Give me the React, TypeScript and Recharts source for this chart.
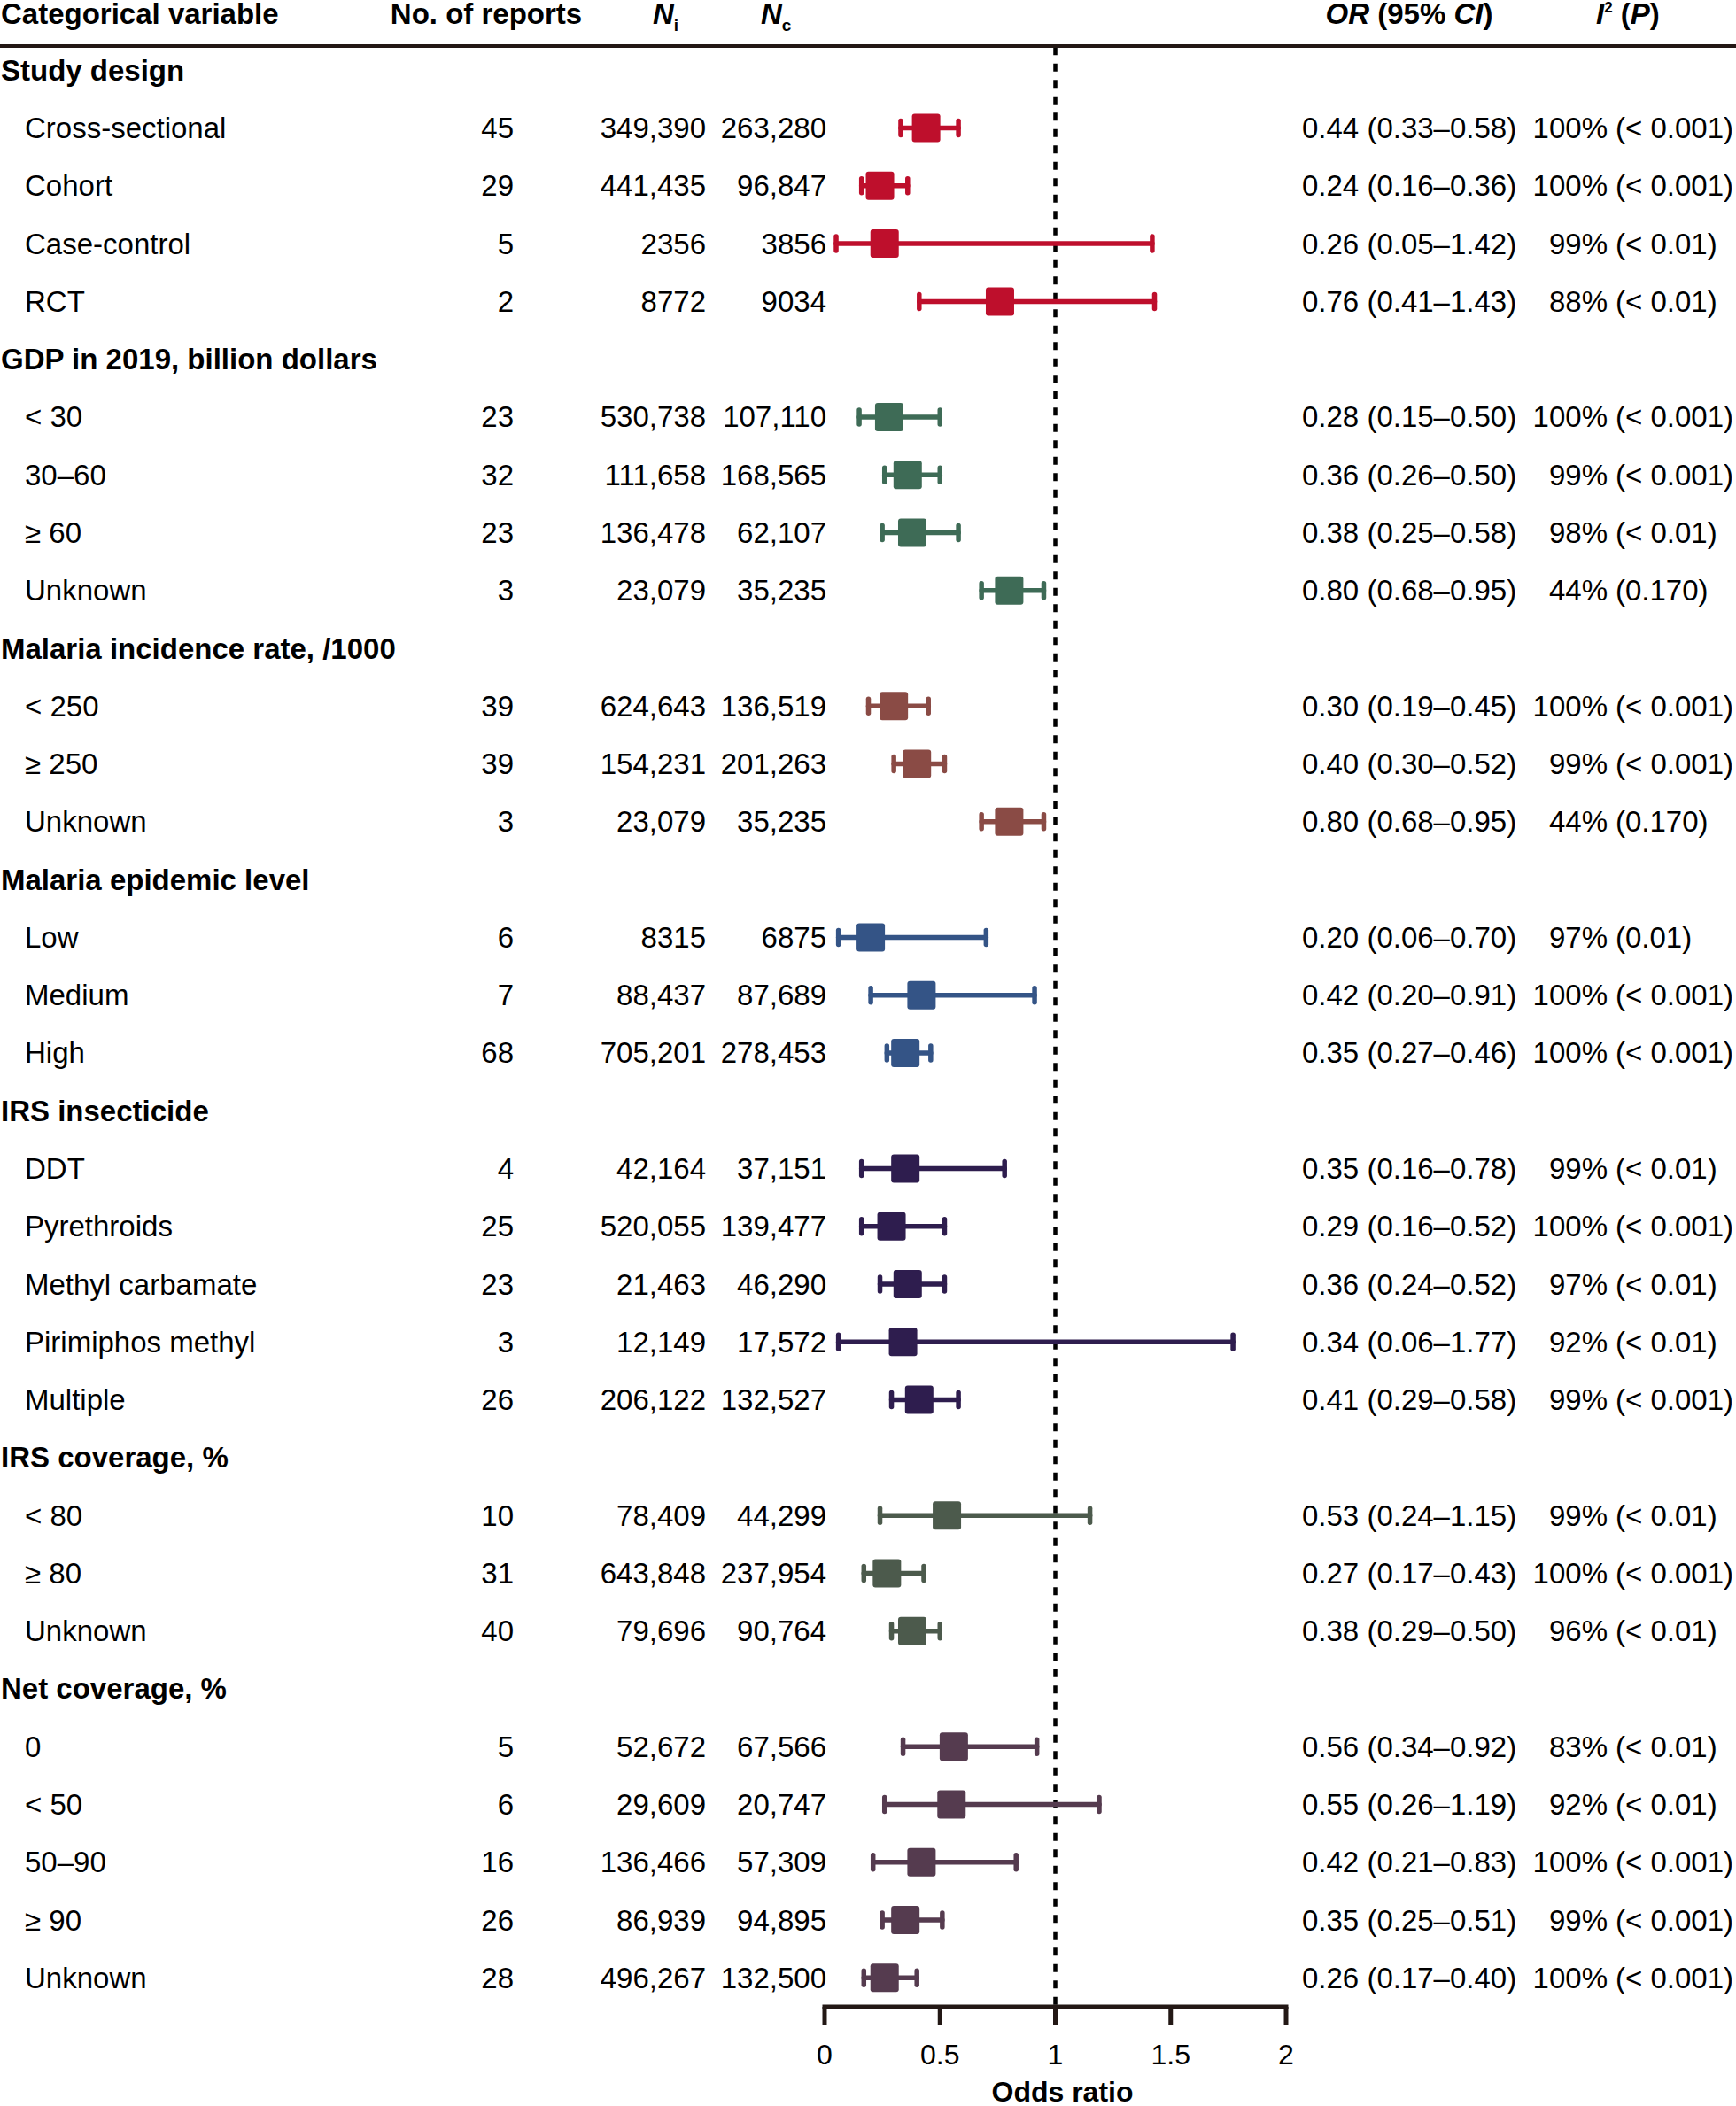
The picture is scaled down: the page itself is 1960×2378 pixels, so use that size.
import React from 'react';
import { ScatterChart, Scatter, XAxis, YAxis, ErrorBar, ReferenceLine } from 'recharts';

const groupNames = [
  'Study design',
  'GDP in 2019, billion dollars',
  'Malaria incidence rate, /1000',
  'Malaria epidemic level',
  'IRS insecticide',
  'IRS coverage, %',
  'Net coverage, %',
];
const groupSizes = [4, 4, 3, 3, 5, 3, 5];
const groupColors = ['#BE0F2C', '#3E6B56', '#8A4B45', '#345486', '#2E1D4E', '#4C5A4C', '#553B4F'];

const itemLabels = [
  'Cross-sectional', 'Cohort', 'Case-control', 'RCT',
  '< 30', '30–60', '≥ 60', 'Unknown',
  '< 250', '≥ 250', 'Unknown',
  'Low', 'Medium', 'High',
  'DDT', 'Pyrethroids', 'Methyl carbamate', 'Pirimiphos methyl', 'Multiple',
  '< 80', '≥ 80', 'Unknown',
  '0', '< 50', '50–90', '≥ 90', 'Unknown',
];
const reports = [45, 29, 5, 2, 23, 32, 23, 3, 39, 39, 3, 6, 7, 68, 4, 25, 23, 3, 26, 10, 31, 40, 5, 6, 16, 26, 28];
const nI = [
  349390, 441435, 2356, 8772,
  530738, 111658, 136478, 23079,
  624643, 154231, 23079,
  8315, 88437, 705201,
  42164, 520055, 21463, 12149, 206122,
  78409, 643848, 79696,
  52672, 29609, 136466, 86939, 496267,
];
const nC = [
  263280, 96847, 3856, 9034,
  107110, 168565, 62107, 35235,
  136519, 201263, 35235,
  6875, 87689, 278453,
  37151, 139477, 46290, 17572, 132527,
  44299, 237954, 90764,
  67566, 20747, 57309, 94895, 132500,
];
const orValues = [0.44, 0.24, 0.26, 0.76, 0.28, 0.36, 0.38, 0.80, 0.30, 0.40, 0.80, 0.20, 0.42, 0.35, 0.35, 0.29, 0.36, 0.34, 0.41, 0.53, 0.27, 0.38, 0.56, 0.55, 0.42, 0.35, 0.26];
const ciLow = [0.33, 0.16, 0.05, 0.41, 0.15, 0.26, 0.25, 0.68, 0.19, 0.30, 0.68, 0.06, 0.20, 0.27, 0.16, 0.16, 0.24, 0.06, 0.29, 0.24, 0.17, 0.29, 0.34, 0.26, 0.21, 0.25, 0.17];
const ciHigh = [0.58, 0.36, 1.42, 1.43, 0.50, 0.50, 0.58, 0.95, 0.45, 0.52, 0.95, 0.70, 0.91, 0.46, 0.78, 0.52, 0.52, 1.77, 0.58, 1.15, 0.43, 0.50, 0.92, 1.19, 0.83, 0.51, 0.40];
const i2Values = [100, 100, 99, 88, 100, 99, 98, 44, 100, 99, 44, 97, 100, 100, 99, 100, 97, 92, 99, 99, 100, 96, 83, 92, 100, 99, 100];
const pValues = [
  '< 0.001', '< 0.001', '< 0.01', '< 0.01',
  '< 0.001', '< 0.001', '< 0.01', '0.170',
  '< 0.001', '< 0.001', '0.170',
  '0.01', '< 0.001', '< 0.001',
  '< 0.01', '< 0.001', '< 0.01', '< 0.01', '< 0.001',
  '< 0.01', '< 0.001', '< 0.01',
  '< 0.01', '< 0.01', '< 0.001', '< 0.001', '< 0.001',
];
const xTicks = [0, 0.5, 1, 1.5, 2];

type Row = { kind: 'group'; g: number } | { kind: 'item'; g: number; i: number };

const rows: Row[] = [];
let counter = 0;
groupNames.forEach((_, g) => {
  rows.push({ kind: 'group', g });
  for (let j = 0; j < groupSizes[g]; j++) rows.push({ kind: 'item', g, i: counter++ });
});
const rowTicks = [0, ...rows.map((_, idx) => idx + 1)];

const seriesData = groupNames.map((_, g) =>
  rows
    .map((row, idx) => ({ row, y: idx + 1 }))
    .filter((d) => d.row.kind === 'item' && d.row.g === g)
    .map((d) => {
      const i = (d.row as { i: number }).i;
      return { y: d.y, or: orValues[i], err: [orValues[i] - ciLow[i], ciHigh[i] - orValues[i]] };
    })
);

const FONT = '"Liberation Sans", Arial, Helvetica, sans-serif';
const INK = '#000';
const fmtN = (n: number) => (n >= 10000 ? String(n).replace(/\B(?=(\d{3})+(?!\d))/g, ',') : String(n));

const RowTick = (props: any) => {
  const { y, payload } = props;
  const v = payload.value as number;
  const base = y + 11.5;
  if (v === 0) {
    const hb = y + 13;
    return (
      <g fontFamily={FONT} fontSize={33} fontWeight={700} fill={INK}>
        <text x={1} y={hb}>Categorical variable</text>
        <text x={549} y={hb} textAnchor="middle">No. of reports</text>
        <text x={737} y={hb}>
          <tspan fontStyle="italic">N</tspan>
          <tspan fontSize={19} dy={8}>i</tspan>
        </text>
        <text x={859} y={hb}>
          <tspan fontStyle="italic">N</tspan>
          <tspan fontSize={19} dy={8}>c</tspan>
        </text>
        <text x={1591} y={hb} textAnchor="middle">
          <tspan fontStyle="italic">OR</tspan> (95% <tspan fontStyle="italic">CI</tspan>)
        </text>
        <text x={1802} y={hb}>
          <tspan fontStyle="italic">I</tspan>
          <tspan fontSize={17} dy={-13}>2</tspan>
          <tspan dy={13}> (</tspan>
          <tspan fontStyle="italic">P</tspan>)
        </text>
        <line x1={0} x2={1960} y1={y + 38} y2={y + 38} stroke="#231815" strokeWidth={4} />
      </g>
    );
  }
  const row = rows[v - 1];
  if (!row) return null;
  if (row.kind === 'group') {
    return (
      <text x={1} y={base} fontFamily={FONT} fontSize={33} fontWeight={700} fill={INK}>
        {groupNames[row.g]}
      </text>
    );
  }
  const i = row.i;
  return (
    <g fontFamily={FONT} fontSize={33} fill={INK}>
      <text x={28} y={base}>{itemLabels[i]}</text>
      <text x={580} y={base} textAnchor="end">{reports[i]}</text>
      <text x={797} y={base} textAnchor="end">{fmtN(nI[i])}</text>
      <text x={933} y={base} textAnchor="end">{fmtN(nC[i])}</text>
      <text x={1470} y={base}>
        {`${orValues[i].toFixed(2)} (${ciLow[i].toFixed(2)}–${ciHigh[i].toFixed(2)})`}
      </text>
      <text x={1815} y={base} textAnchor="end">{`${i2Values[i]}%`}</text>
      <text x={1824} y={base}>{`(${pValues[i]})`}</text>
    </g>
  );
};

const AxisTitle = (props: any) => {
  const vb = props.viewBox || {};
  return (
    <text
      x={(vb.x ?? 931) + (vb.width ?? 521) / 2 + 8}
      y={(vb.y ?? 2266) + 107}
      textAnchor="middle"
      fontFamily={FONT}
      fontSize={32}
      fontWeight={700}
      fill={INK}
    >
      Odds ratio
    </text>
  );
};

const makeShape = (color: string) => (props: any) => {
  const { cx, cy } = props;
  if (cx == null || cy == null) return null;
  return <rect x={cx - 16} y={cy - 16} width={32} height={32} rx={3} ry={3} fill={color} />;
};

export default function App() {
  return (
    <div style={{ position: 'absolute', left: 0, top: 0, width: 1960, height: 2378, background: '#fff' }}>
      <ScatterChart width={1960} height={2378} margin={{ top: 14, right: 508, bottom: 0, left: 871 }}>
        <XAxis
          type="number"
          dataKey="or"
          domain={[0, 2]}
          ticks={xTicks}
          interval={0}
          allowDataOverflow
          height={112}
          tickSize={20}
          tickMargin={22}
          tick={{ fill: INK, fontSize: 32, fontFamily: FONT }}
          axisLine={{ stroke: '#231815', strokeWidth: 5, strokeLinecap: 'square' }}
          tickLine={{ stroke: '#231815', strokeWidth: 5 }}
          label={{ content: AxisTitle }}
        />
        <YAxis
          type="number"
          dataKey="y"
          domain={[0, 34.5]}
          reversed
          allowDataOverflow
          ticks={rowTicks}
          interval={0}
          width={60}
          axisLine={false}
          tickLine={false}
          tick={RowTick}
        />
        <ReferenceLine
          segment={[{ x: 1, y: 0.6 }, { x: 1, y: 34.5 }]}
          stroke="#000"
          strokeWidth={4.5}
          strokeDasharray="9 9.5"
        />
        {seriesData.map((data, g) => (
          <Scatter
            key={groupNames[g]}
            data={data}
            fill={groupColors[g]}
            shape={makeShape(groupColors[g])}
            isAnimationActive={false}
          >
            <ErrorBar
              dataKey="err"
              direction="x"
              width={8}
              stroke={groupColors[g]}
              strokeWidth={5.5}
              strokeLinecap="round"
              isAnimationActive={false}
            />
          </Scatter>
        ))}
      </ScatterChart>
    </div>
  );
}
